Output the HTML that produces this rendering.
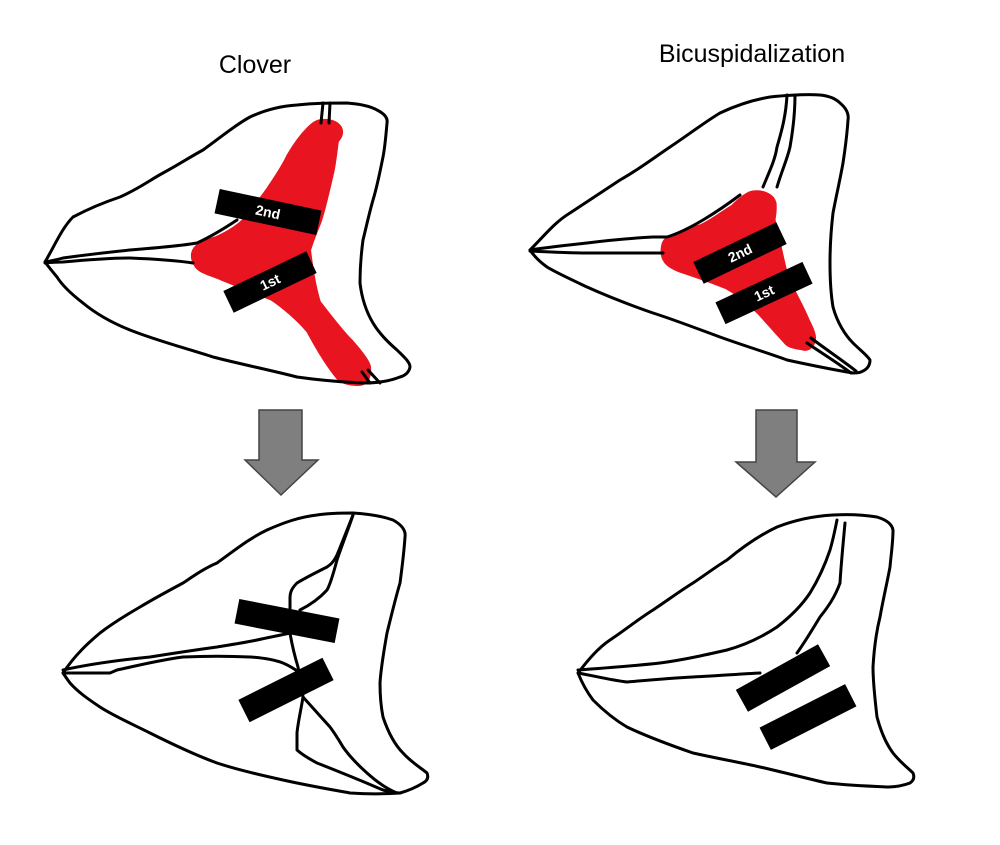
<!DOCTYPE html>
<html><head><meta charset="utf-8"><style>
html,body{margin:0;padding:0;background:#fff;}
svg{display:block}
text{font-family:"Liberation Sans",Arial,sans-serif;}
</style></head><body>
<svg width="1000" height="845" viewBox="0 0 1000 845" xmlns="http://www.w3.org/2000/svg">
<rect width="1000" height="845" fill="#fff"/>
<text x="255" y="73" font-size="25" text-anchor="middle" fill="#000">Clover</text>
<text x="752" y="62" font-size="25" text-anchor="middle" fill="#000">Bicuspidalization</text>

<g fill="#e8141f" stroke="#e8141f" stroke-linejoin="round" stroke-width="8">
<path d="M323,123 C335,122 345,130 335,140 C333,155 332,165 330,173 C325,195 320,215 317,223 C312,235 309,243 307,250 C310,275 313,290 317,303 C330,320 342,335 350,343 C358,352 366,362 367,367 C368,378 364,382 358,382 C350,382 343,380 340,377 C330,365 318,345 310,330 C300,318 285,305 273,297 C255,290 238,283 223,277 C212,272 200,270 197,263 C193,256 195,250 200,247 C208,243 212,241 217,240 C228,235 240,228 247,220 C255,210 263,200 270,190 C278,178 285,168 290,157 C297,145 305,135 310,130 C315,125 318,123 323,123 Z"/>
<path d="M753,193 C762,192 772,195 774,203 C775,212 773,218 773,220 C778,240 782,262 787,280 C795,295 802,308 807,320 C812,330 815,337 813,342 C810,348 806,349 803,348 C797,347 790,346 787,343 C778,333 768,322 760,313 C750,303 738,293 727,287 C710,280 695,275 680,270 C670,266 664,262 663,253 C663,245 665,241 667,240 C680,233 690,229 700,227 C712,222 724,212 733,207 C740,200 747,194 753,193 Z" stroke-width="5"/>
</g>

<g fill="none" stroke="#000" stroke-width="3" stroke-linejoin="round" stroke-linecap="round">
<path d="M45,262 C55,245 62,228 73,217 C90,208 105,202 120,197 C140,188 150,180 163,173 C178,165 190,157 203,150 C220,138 235,125 250,117 C265,110 280,106 297,105 C315,103 330,103 347,103 C360,104 370,106 377,110 C385,114 388,118 387,123 C386,135 385,147 383,157 C380,172 377,187 373,200 C369,214 366,228 363,240 C361,255 360,270 360,283 C362,300 367,313 373,323 C380,335 390,344 397,350 C404,357 410,362 410,367 C409,373 404,376 400,377 C390,381 378,383 363,383 C340,382 318,380 297,377 C270,370 240,364 213,357 C185,348 155,340 130,330 C110,322 95,313 83,303 C70,293 62,285 57,277 C52,271 48,266 45,262 Z"/>
<path d="M45,262 C55,260 60,259 63,258 C85,255 110,252 130,250 C155,248 180,246 197,243 C210,237 225,228 237,220"/>
<path d="M45,263 C55,262 60,262 63,262 C85,260 110,258 130,258 C155,259 180,261 193,263"/>
<path d="M323,103 L321,123 M330,103 L329,123"/>
<path d="M362,372 L370,383 M368,370 L380,383"/>
<path d="M530,250 C545,235 555,222 570,213 C585,203 605,190 620,180 C638,170 655,157 670,147 C688,135 705,122 720,113 C737,105 752,100 770,97 C790,95 805,94 820,95 C830,96 836,99 840,103 C846,108 849,114 848,120 C847,135 845,150 843,163 C840,180 836,197 833,213 C831,230 830,248 830,263 C830,280 831,295 833,307 C837,322 845,335 853,343 C860,350 867,355 870,360 C870,366 867,369 863,371 C860,373 856,373 853,373 C835,370 810,365 787,360 C765,352 742,345 720,337 C698,329 675,320 653,313 C630,305 607,296 587,287 C570,279 555,272 547,267 C540,262 534,256 530,250 Z"/>
<path d="M530,250 C550,247 570,245 587,243 C610,240 635,238 653,237 L667,237 C690,230 720,210 740,195"/>
<path d="M530,251 C550,252 570,253 587,253 C610,253 640,253 663,253"/>
<path d="M763,187 C770,170 775,160 777,147 C782,130 786,115 787,95"/>
<path d="M777,187 C782,170 787,160 790,147 C793,130 795,115 795,95"/>
<path d="M807,343 C820,352 838,363 851,373"/>
<path d="M811,338 C824,348 842,360 856,371"/>
<path d="M63,673 C75,655 88,643 100,633 C113,623 128,614 140,607 C155,598 170,590 183,583 C195,575 205,568 217,563 C235,550 250,538 267,530 C285,522 300,517 317,515 C330,513 342,513 353,513 C368,514 382,516 393,520 C402,525 406,531 405,537 C404,553 402,568 400,583 C395,600 391,617 387,633 C384,650 381,667 380,683 C380,695 381,707 383,717 C388,732 395,745 403,753 C411,762 421,768 427,773 C429,778 427,781 423,783 C415,788 407,791 400,793 C385,794 365,794 350,793 C328,789 305,785 283,780 C260,775 238,770 217,763 C195,755 170,743 150,733 C130,723 112,715 100,707 C88,699 78,692 70,683 C67,679 65,676 63,673 Z"/>
<path d="M63,670 C90,664 120,660 150,657 C175,653 195,650 217,647 C235,644 248,642 257,640 C270,637 282,635 290,633"/>
<path d="M63,673 L110,673 L117,670 C140,665 160,660 183,657 C205,656 230,656 250,657 C265,658 275,660 283,663 C290,666 296,670 300,673"/>
<path d="M353,515 C345,535 340,548 337,555 C333,563 330,565 327,567 C315,573 305,578 297,583 C292,588 290,592 290,598 C290,610 290,625 290,633 C292,645 295,657 298,667 C300,680 302,690 303,697 C301,710 298,722 297,733 C297,740 297,745 297,750 C305,757 312,760 317,763 C340,772 362,781 383,790 C390,792 395,793 400,793"/>
<path d="M353,515 C348,530 342,545 337,560 C333,575 330,585 327,590 C318,600 308,606 300,610"/>
<path d="M303,697 C312,707 322,718 330,727 C336,735 340,742 343,747 C350,757 358,765 367,773 C377,782 387,789 397,793"/>
<path d="M578,673 C588,660 598,648 610,640 C625,630 640,618 653,610 C668,600 680,591 693,583 C705,575 717,566 727,560 C745,545 760,535 777,527 C795,520 815,516 833,515 C850,514 865,515 877,517 C887,520 892,524 893,530 C893,543 891,555 890,567 C887,583 883,600 880,617 C876,633 874,650 873,667 C873,683 875,700 877,717 C881,732 887,745 893,753 C900,762 908,768 913,773 C915,778 913,781 910,783 C902,786 895,787 887,787 C865,786 845,785 827,783 C805,778 782,772 760,767 C738,762 715,758 693,753 C670,745 648,737 627,727 C615,720 603,710 593,700 C587,692 582,683 578,673 Z"/>
<path d="M578,670 C605,668 633,666 660,663 C683,660 705,655 727,650 C745,645 762,637 777,627 C790,617 802,605 810,593 C818,580 825,565 830,550 C833,540 835,530 837,520"/>
<path d="M845,523 C843,545 841,565 840,583 C835,597 828,607 820,617 C812,630 805,642 797,653"/>
<path d="M578,673 C595,676 610,680 627,682 C650,680 672,678 693,677 C715,676 740,674 760,673"/>
</g>

<g transform="translate(268,212) rotate(12)"><rect x="-52" y="-12.5" width="104" height="25" fill="#000"/><text x="0" y="5" font-size="14" font-weight="bold" fill="#fff" text-anchor="middle">2nd</text></g>
<g transform="translate(270,282) rotate(-25.6)"><rect x="-46" y="-12" width="92" height="24" fill="#000"/><text x="0" y="5" font-size="14" font-weight="bold" fill="#fff" text-anchor="middle">1st</text></g>
<g transform="translate(740,253) rotate(-25.6)"><rect x="-46" y="-12" width="92" height="24" fill="#000"/><text x="0" y="5" font-size="14" font-weight="bold" fill="#fff" text-anchor="middle">2nd</text></g>
<g transform="translate(764,293) rotate(-25)"><rect x="-48" y="-12" width="96" height="24" fill="#000"/><text x="0" y="5" font-size="14" font-weight="bold" fill="#fff" text-anchor="middle">1st</text></g>

<g transform="translate(287,621) rotate(11)"><rect x="-51" y="-12.5" width="102" height="25" fill="#000"/></g>
<g transform="translate(286,690) rotate(-26.6)"><rect x="-47" y="-12.5" width="94" height="25" fill="#000"/></g>
<g transform="translate(783,678) rotate(-29)"><rect x="-47" y="-12.5" width="94" height="25" fill="#000"/></g>
<g transform="translate(808,717) rotate(-27)"><rect x="-48" y="-12.5" width="96" height="25" fill="#000"/></g>

<path d="M259,410 H302 V460 H318 L281,495 L245,460 H259 Z" fill="#7f7f7f" stroke="#444" stroke-width="1.5"/>
<path d="M756,410 H797 V462 H815 L776,497 L736,462 H756 Z" fill="#7f7f7f" stroke="#444" stroke-width="1.5"/>
</svg>
</body></html>
